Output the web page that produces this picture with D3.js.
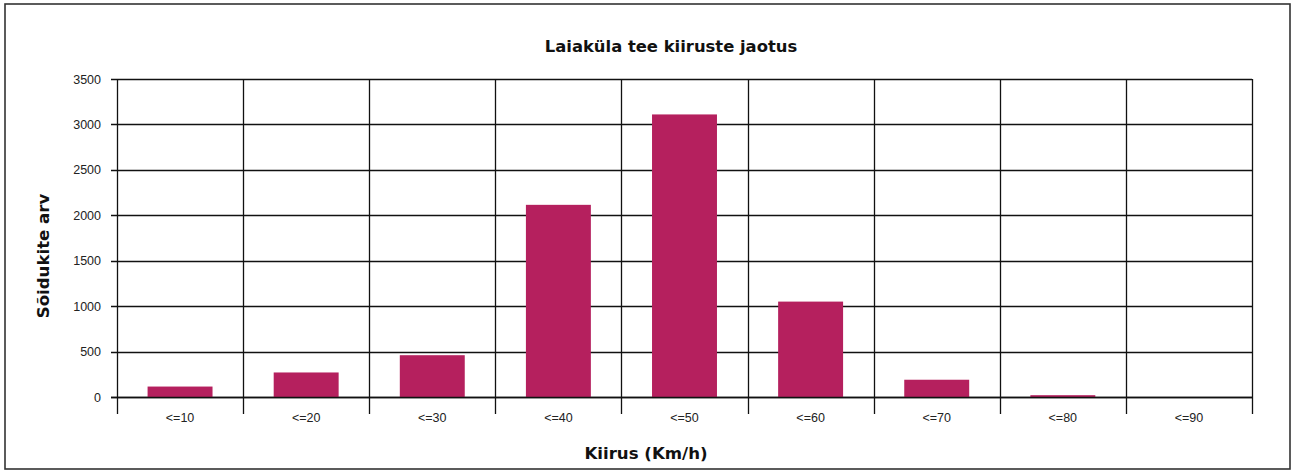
<!DOCTYPE html>
<html>
<head>
<meta charset="utf-8">
<script src="https://cdn.jsdelivr.net/npm/d3@7"></script>
<style>
  html, body { margin: 0; padding: 0; background: #fff; }
  svg { display: block; }
</style>
</head>
<body>
<svg id="chart" width="1294" height="472"></svg>
<script>
const categories = ["<=10", "<=20", "<=30", "<=40", "<=50", "<=60", "<=70", "<=80", "<=90"];
const values = [115, 270, 460, 2115, 3110, 1050, 190, 20, 0];
const yTicks = [0, 500, 1000, 1500, 2000, 2500, 3000, 3500];
const title = "Laiaküla tee kiiruste jaotus";
const yTitle = "Sõidukite arv";
const xTitle = "Kiirus (Km/h)";

(function () {
const svg = d3.select("#chart");
const pLeft = 117, pRight = 1252, pTop = 79, pBottom = 397;

svg.append("rect")
  .attr("x", 5).attr("y", 4).attr("width", 1285).attr("height", 465)
  .attr("fill", "#fff").attr("stroke", "#333").attr("stroke-width", 1.6);

const x = d3.scaleBand().domain(categories).range([pLeft, pRight]).paddingInner(0).paddingOuter(0);
const y = d3.scaleLinear().domain([0, 3500]).range([pBottom, pTop]);

// horizontal gridlines + y ticks
const gy = svg.append("g");
gy.selectAll("line").data(yTicks).join("line")
  .attr("x1", pLeft - 6).attr("x2", pRight)
  .attr("y1", d => Math.round(y(d)) + 0.5).attr("y2", d => Math.round(y(d)) + 0.5)
  .attr("stroke", "#111").attr("stroke-width", 1.3);
gy.selectAll("text").data(yTicks).join("text")
  .attr("x", pLeft - 16).attr("y", d => y(d) + 4.5)
  .attr("text-anchor", "end")
  .attr("font-family", "Liberation Sans, Arial, sans-serif")
  .attr("font-size", 12.5).attr("fill", "#222")
  .text(d => d);

// vertical gridlines at band boundaries
const bounds = categories.map(c => x(c)).concat([x(categories[categories.length - 1]) + x.bandwidth()]);
svg.append("g").selectAll("line").data(bounds).join("line")
  .attr("x1", d => Math.round(d) + 0.5).attr("x2", d => Math.round(d) + 0.5)
  .attr("y1", pTop).attr("y2", pBottom + 17)
  .attr("stroke", "#111").attr("stroke-width", 1.3);

// bars
const bw = x.bandwidth() * 0.515;
svg.append("g").selectAll("rect").data(values).join("rect")
  .attr("x", (d, i) => x(categories[i]) + (x.bandwidth() - bw) / 2)
  .attr("width", bw)
  .attr("y", d => y(d))
  .attr("height", d => pBottom - y(d))
  .attr("fill", "#b5205e");

// redraw zero axis line over bars
svg.append("line")
  .attr("x1", pLeft - 6).attr("x2", pRight)
  .attr("y1", Math.round(y(0)) + 0.5).attr("y2", Math.round(y(0)) + 0.5)
  .attr("stroke", "#111").attr("stroke-width", 1.3);

// x tick labels
svg.append("g").selectAll("text").data(categories).join("text")
  .attr("x", d => x(d) + x.bandwidth() / 2).attr("y", pBottom + 25)
  .attr("text-anchor", "middle")
  .attr("font-family", "Liberation Sans, Arial, sans-serif")
  .attr("font-size", 12.5).attr("fill", "#222")
  .text(d => d);

// titles
svg.append("text")
  .attr("x", 671).attr("y", 52).attr("text-anchor", "middle")
  .attr("font-family", "DejaVu Sans, sans-serif").attr("font-weight", "bold")
  .attr("font-size", 16.4).attr("fill", "#111")
  .text(title);

svg.append("text")
  .attr("x", 646).attr("y", 459).attr("text-anchor", "middle")
  .attr("font-family", "DejaVu Sans, sans-serif").attr("font-weight", "bold")
  .attr("font-size", 16.6).attr("fill", "#111")
  .text(xTitle);

svg.append("text")
  .attr("transform", "translate(49,256) rotate(-90)")
  .attr("text-anchor", "middle")
  .attr("font-family", "DejaVu Sans, sans-serif").attr("font-weight", "bold")
  .attr("font-size", 16.6).attr("fill", "#111")
  .text(yTitle);
})();
</script>
</body>
</html>
